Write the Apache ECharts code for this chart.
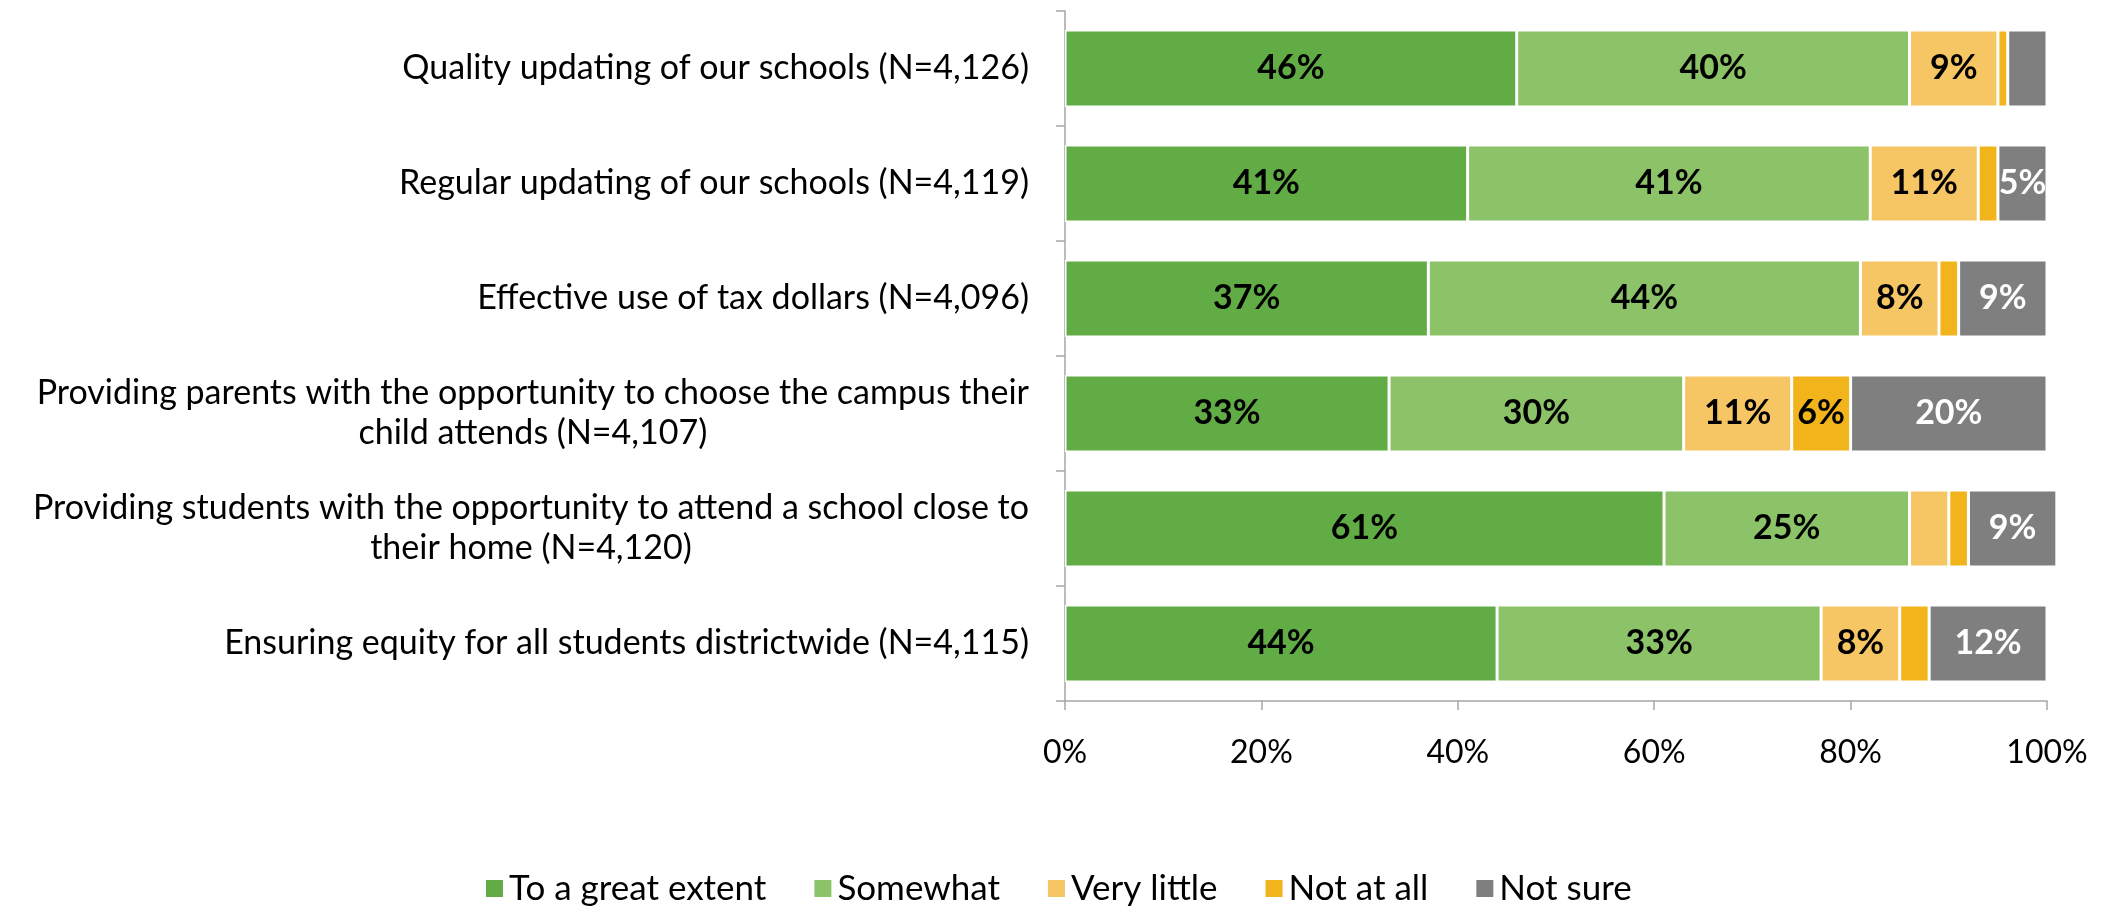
<!DOCTYPE html>
<html>
<head>
<meta charset="utf-8">
<script src="https://cdn.jsdelivr.net/npm/echarts@6/dist/echarts.min.js"></script>
<style>
  html, body { margin: 0; padding: 0; background: #fff; }
  #chart { width: 2107px; height: 909px; }
</style>
</head>
<body>
<div id="chart"></div>
<script>
const categories = [
  "Quality updating of our schools (N=4,126)",
  "Regular updating of our schools (N=4,119)",
  "Effective use of tax dollars (N=4,096)",
  "Providing parents with the opportunity to choose the campus their\nchild attends (N=4,107)",
  "Providing students with the opportunity to attend a school close to\ntheir home (N=4,120)",
  "Ensuring equity for all students districtwide (N=4,115)"
];
const seriesNames = ["To a great extent", "Somewhat", "Very little", "Not at all", "Not sure"];
const greatExtent = [46, 41, 37, 33, 61, 44];
const somewhat    = [40, 41, 44, 30, 25, 33];
const veryLittle  = [9, 11, 8, 11, 4, 8];
const notAtAll    = [1, 2, 2, 6, 2, 3];
const notSure     = [4, 5, 9, 20, 9, 12];
const xTicks = [0, 20, 40, 60, 80, 100];

const colors = ["#62AC46", "#8CC368", "#F6C564", "#F2B41B", "#7F7F7F"];
const labelColors = ["#000", "#000", "#000", "#000", "#fff"];
const values = [greatExtent, somewhat, veryLittle, notAtAll, notSure];
const FONT = "Lato";

const chart = echarts.init(document.getElementById('chart'), null, { renderer: 'canvas' });

const series = seriesNames.map((name, i) => ({
  name: name,
  type: 'bar',
  stack: 'total',
  barWidth: '67%',
  clip: false,
  data: values[i],
  itemStyle: { color: colors[i], borderColor: '#ffffff', borderWidth: 1.5 },
  label: {
    show: true,
    position: 'inside',
    color: labelColors[i],
    fontFamily: FONT,
    fontWeight: 'bold',
    fontSize: 34,
    formatter: p => (p.value >= 5 ? p.value + '%' : '')
  },
  emphasis: { disabled: true }
}));

chart.setOption({
  animation: false,
  textStyle: { fontFamily: FONT },
  grid: { left: 1065, right: 60, top: 11, bottom: 208, containLabel: false },
  legend: {
    data: seriesNames,
    left: 479,
    top: 866,
    itemWidth: 19,
    itemHeight: 19,
    itemGap: 46,
    icon: 'rect',
    textStyle: { fontFamily: FONT, fontSize: 35, color: '#000' }
  },
  xAxis: {
    type: 'value',
    min: xTicks[0],
    max: xTicks[xTicks.length - 1],
    interval: 20,
    splitLine: { show: false },
    axisLine: { show: true, lineStyle: { color: '#A6A6A6', width: 1.5 } },
    axisTick: { show: true, length: 9, lineStyle: { color: '#A6A6A6', width: 1.5 } },
    axisLabel: { formatter: '{value}%', fontFamily: FONT, fontSize: 32, color: '#000', margin: 36 }
  },
  yAxis: {
    type: 'category',
    inverse: true,
    data: categories,
    axisLine: { show: true, lineStyle: { color: '#A6A6A6', width: 1.5 } },
    axisTick: { show: true, length: 9, lineStyle: { color: '#A6A6A6', width: 1.5 } },
    axisLabel: {
      fontFamily: FONT,
      fontSize: 34,
      color: '#000',
      margin: 36,
      lineHeight: 40,
      formatter: v => v.split('\n').map(s => '{c|' + s + '}').join('\n'),
      rich: { c: { align: 'center', fontFamily: FONT, fontSize: 34, color: '#000', lineHeight: 40 } }
    }
  },
  series: series
});
</script>
</body>
</html>
